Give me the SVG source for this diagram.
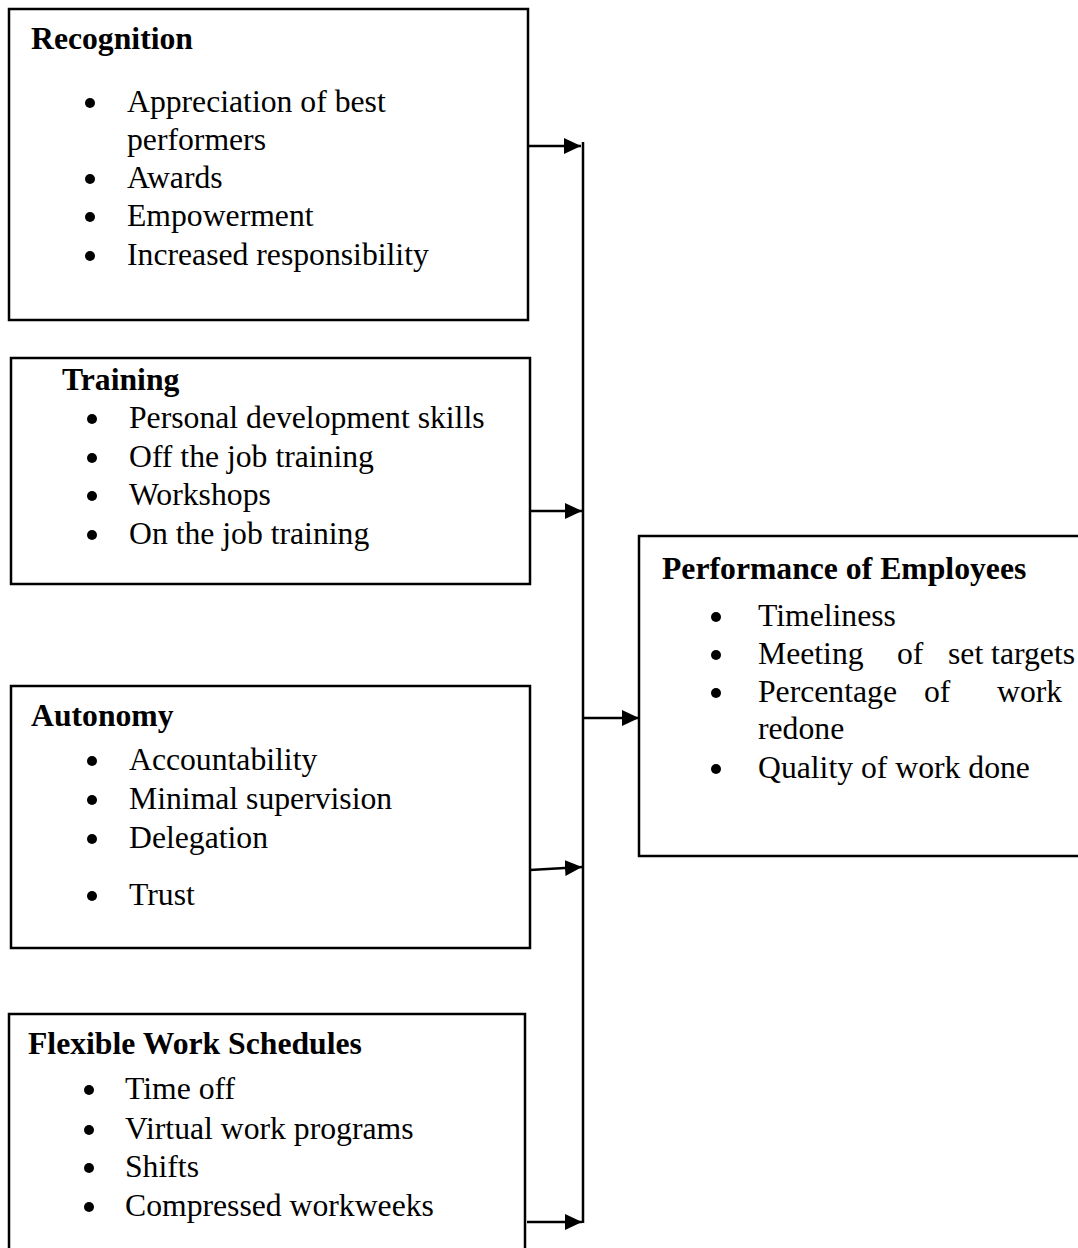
<svg xmlns="http://www.w3.org/2000/svg" width="1078" height="1248" viewBox="0 0 1078 1248">
<style>
.box{fill:#fff;stroke:#000;stroke-width:2.5}
.t{font-family:"Liberation Serif","Times New Roman",serif;font-size:31.7px;fill:#000}
.h{font-weight:bold}
.b{fill:#000}
.c{stroke:#000;stroke-width:2.5;fill:none}
</style>
<defs>
<marker id="ah" markerUnits="userSpaceOnUse" markerWidth="18" markerHeight="16" refX="17" refY="8" orient="auto">
<path d="M0,0 L17,8 L0,16 z" fill="#000"/>
</marker>
</defs>
<rect width="1078" height="1248" fill="#fff"/>

<g id="recognition">
<rect class="box" x="9" y="9" width="519" height="311"/>
<text class="t h" x="31" y="49">Recognition</text>
<circle class="b" cx="90" cy="103" r="5"/>
<text class="t" x="127" y="112">Appreciation of best</text>
<text class="t" x="127" y="150">performers</text>
<circle class="b" cx="90" cy="179" r="5"/>
<text class="t" x="127" y="188">Awards</text>
<circle class="b" cx="90" cy="217" r="5"/>
<text class="t" x="127" y="226">Empowerment</text>
<circle class="b" cx="90" cy="256" r="5"/>
<text class="t" x="127" y="265">Increased responsibility</text>
</g>

<g id="training">
<rect class="box" x="11" y="358" width="519" height="226"/>
<text class="t h" x="62" y="390">Training</text>
<circle class="b" cx="92" cy="419" r="5"/>
<text class="t" x="129" y="428">Personal development skills</text>
<circle class="b" cx="92" cy="458" r="5"/>
<text class="t" x="129" y="467">Off the job training</text>
<circle class="b" cx="92" cy="496" r="5"/>
<text class="t" x="129" y="505">Workshops</text>
<circle class="b" cx="92" cy="535" r="5"/>
<text class="t" x="129" y="544">On the job training</text>
</g>

<g id="autonomy">
<rect class="box" x="11" y="686" width="519" height="262"/>
<text class="t h" x="31" y="726">Autonomy</text>
<circle class="b" cx="92" cy="761" r="5"/>
<text class="t" x="129" y="770">Accountability</text>
<circle class="b" cx="92" cy="800" r="5"/>
<text class="t" x="129" y="809">Minimal supervision</text>
<circle class="b" cx="92" cy="839" r="5"/>
<text class="t" x="129" y="848">Delegation</text>
<circle class="b" cx="92" cy="896" r="5"/>
<text class="t" x="129" y="905">Trust</text>
</g>

<g id="flexible">
<rect class="box" x="9" y="1014" width="516" height="250"/>
<text class="t h" x="28" y="1054">Flexible Work Schedules</text>
<circle class="b" cx="89" cy="1090" r="5"/>
<text class="t" x="125" y="1099">Time off</text>
<circle class="b" cx="89" cy="1130" r="5"/>
<text class="t" x="125" y="1139">Virtual work programs</text>
<circle class="b" cx="89" cy="1168" r="5"/>
<text class="t" x="125" y="1177">Shifts</text>
<circle class="b" cx="89" cy="1207" r="5"/>
<text class="t" x="125" y="1216">Compressed workweeks</text>
</g>

<g id="performance">
<rect class="box" x="639" y="536" width="450" height="320"/>
<text class="t h" x="662" y="579">Performance of Employees</text>
<circle class="b" cx="716" cy="617" r="5"/>
<text class="t" x="758" y="626">Timeliness</text>
<circle class="b" cx="716" cy="655" r="5"/>
<text class="t" y="664"><tspan x="758">Meeting</tspan><tspan x="897">of</tspan><tspan x="948">set targets</tspan></text>
<circle class="b" cx="716" cy="693" r="5"/>
<text class="t" y="702"><tspan x="758">Percentage</tspan><tspan x="924">of</tspan><tspan x="997">work</tspan></text>
<text class="t" x="758" y="739">redone</text>
<circle class="b" cx="716" cy="769" r="5"/>
<text class="t" x="758" y="778">Quality of work done</text>
</g>

<g id="connectors">
<line class="c" x1="583" y1="142" x2="583" y2="1223"/>
<line class="c" x1="528" y1="146" x2="581" y2="146" marker-end="url(#ah)"/>
<line class="c" x1="530" y1="511" x2="582" y2="511" marker-end="url(#ah)"/>
<line class="c" x1="530" y1="870" x2="582" y2="867" marker-end="url(#ah)"/>
<line class="c" x1="527" y1="1222" x2="582" y2="1222" marker-end="url(#ah)"/>
<line class="c" x1="583" y1="718" x2="639" y2="718" marker-end="url(#ah)"/>
</g>
</svg>
